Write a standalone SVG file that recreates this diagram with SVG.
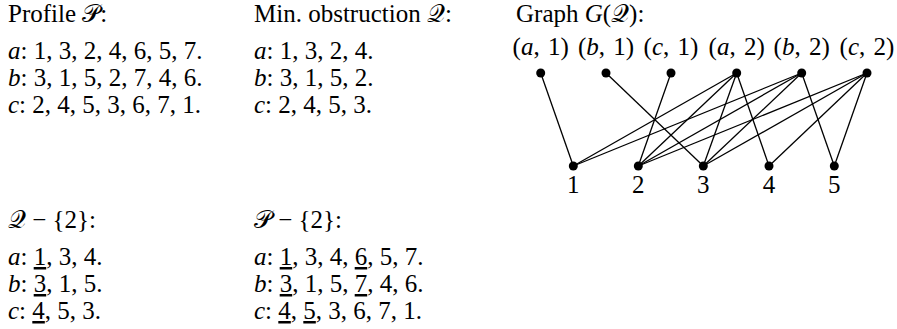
<svg xmlns="http://www.w3.org/2000/svg" width="897" height="329" viewBox="0 0 897 329">
<style>
text{font-family:"Liberation Serif","DejaVu Serif",serif;font-size:25px;fill:#000}
.i{font-style:italic}
.u{text-decoration:underline}
.lb{word-spacing:2px}
.e line{stroke:#000;stroke-width:1.3}
.n circle{fill:#000}
</style>
<rect width="897" height="329" fill="#fff"/>
<g id="profile">
<text x="8" y="22">Profile 𝒫:</text>
<text x="8" y="59"><tspan class="i">a</tspan>: 1, 3, 2, 4, 6, 5, 7.</text>
<text x="8" y="86"><tspan class="i">b</tspan>: 3, 1, 5, 2, 7, 4, 6.</text>
<text x="8" y="113"><tspan class="i">c</tspan>: 2, 4, 5, 3, 6, 7, 1.</text>
</g>
<g id="obstruction">
<text x="254" y="22">Min. obstruction 𝒬:</text>
<text x="254" y="59"><tspan class="i">a</tspan>: 1, 3, 2, 4.</text>
<text x="254" y="86"><tspan class="i">b</tspan>: 3, 1, 5, 2.</text>
<text x="254" y="113"><tspan class="i">c</tspan>: 2, 4, 5, 3.</text>
</g>
<g id="q-minus">
<text x="8" y="228">𝒬 − {2}:</text>
<text x="8" y="265"><tspan class="i">a</tspan>: <tspan class="u">1</tspan>, 3, 4.</text>
<text x="8" y="292"><tspan class="i">b</tspan>: <tspan class="u">3</tspan>, 1, 5.</text>
<text x="8" y="319"><tspan class="i">c</tspan>: <tspan class="u">4</tspan>, 5, 3.</text>
</g>
<g id="p-minus">
<text x="254" y="228">𝒫 − {2}:</text>
<text x="254" y="265"><tspan class="i">a</tspan>: <tspan class="u">1</tspan>, 3, 4, <tspan class="u">6</tspan>, 5, 7.</text>
<text x="254" y="292"><tspan class="i">b</tspan>: <tspan class="u">3</tspan>, 1, 5, <tspan class="u">7</tspan>, 4, 6.</text>
<text x="254" y="319"><tspan class="i">c</tspan>: <tspan class="u">4</tspan>, <tspan class="u">5</tspan>, 3, 6, 7, 1.</text>
</g>
<g id="graph-title"><text x="516" y="22">Graph <tspan class="i">G</tspan>(𝒬):</text></g>
<g id="connectors" class="e">
<line x1="540.7" y1="73" x2="573.3" y2="166"/>
<line x1="606" y1="73" x2="703.3" y2="166"/>
<line x1="671" y1="73" x2="638.3" y2="166"/>
<line x1="736.7" y1="73" x2="573.3" y2="166"/>
<line x1="736.7" y1="73" x2="638.3" y2="166"/>
<line x1="736.7" y1="73" x2="703.3" y2="166"/>
<line x1="736.7" y1="73" x2="769" y2="166"/>
<line x1="801.7" y1="73" x2="573.3" y2="166"/>
<line x1="801.7" y1="73" x2="638.3" y2="166"/>
<line x1="801.7" y1="73" x2="703.3" y2="166"/>
<line x1="801.7" y1="73" x2="834.3" y2="166"/>
<line x1="867" y1="73" x2="638.3" y2="166"/>
<line x1="867" y1="73" x2="703.3" y2="166"/>
<line x1="867" y1="73" x2="769" y2="166"/>
<line x1="867" y1="73" x2="834.3" y2="166"/>
</g>
<g id="n-a1" class="n"><circle cx="540.7" cy="73" r="4.5"/><text class="lb" x="540.7" y="55" text-anchor="middle">(<tspan class="i">a</tspan>, 1)</text></g>
<g id="n-b1" class="n"><circle cx="606" cy="73" r="4.5"/><text class="lb" x="606" y="55" text-anchor="middle">(<tspan class="i">b</tspan>, 1)</text></g>
<g id="n-c1" class="n"><circle cx="671" cy="73" r="4.5"/><text class="lb" x="671" y="55" text-anchor="middle">(<tspan class="i">c</tspan>, 1)</text></g>
<g id="n-a2" class="n"><circle cx="736.7" cy="73" r="4.5"/><text class="lb" x="736.7" y="55" text-anchor="middle">(<tspan class="i">a</tspan>, 2)</text></g>
<g id="n-b2" class="n"><circle cx="801.7" cy="73" r="4.5"/><text class="lb" x="801.7" y="55" text-anchor="middle">(<tspan class="i">b</tspan>, 2)</text></g>
<g id="n-c2" class="n"><circle cx="867" cy="73" r="4.5"/><text class="lb" x="867" y="55" text-anchor="middle">(<tspan class="i">c</tspan>, 2)</text></g>
<g id="n-1" class="n"><circle cx="573.3" cy="166" r="4.5"/><text x="573.3" y="193" text-anchor="middle">1</text></g>
<g id="n-2" class="n"><circle cx="638.3" cy="166" r="4.5"/><text x="638.3" y="193" text-anchor="middle">2</text></g>
<g id="n-3" class="n"><circle cx="703.3" cy="166" r="4.5"/><text x="703.3" y="193" text-anchor="middle">3</text></g>
<g id="n-4" class="n"><circle cx="769" cy="166" r="4.5"/><text x="769" y="193" text-anchor="middle">4</text></g>
<g id="n-5" class="n"><circle cx="834.3" cy="166" r="4.5"/><text x="834.3" y="193" text-anchor="middle">5</text></g>
</svg>
